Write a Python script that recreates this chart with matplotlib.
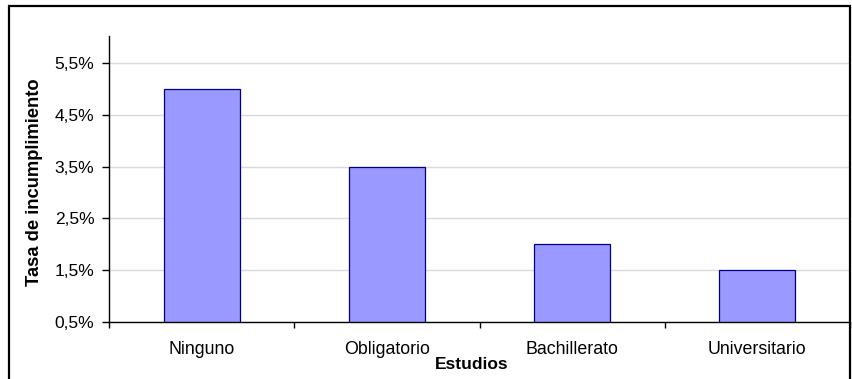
# Tasa de incumplimiento por nivel de estudios - bar chart, Excel style
import matplotlib
matplotlib.use("Agg")
import matplotlib.pyplot as plt
from matplotlib.patches import Rectangle
from matplotlib.ticker import FixedLocator, FuncFormatter

# data
categories = ["Ninguno", "Obligatorio", "Bachillerato", "Universitario"]
rates = [5.0, 3.5, 2.0, 1.5]  # percent
yticks = [0.5, 1.5, 2.5, 3.5, 4.5, 5.5]

plt.rcParams["font.family"] = ["Liberation Sans", "DejaVu Sans"]

fig = plt.figure(figsize=(8.53, 3.79), dpi=100)
ax = fig.add_axes([109 / 853, 1 - 322 / 379, 741 / 853, 286 / 379])

x = list(range(len(categories)))
ax.bar(x, rates, width=0.41, bottom=0, color="#9999FF", edgecolor="#000080",
       linewidth=0.9, zorder=3)

ax.set_xlim(-0.5, len(categories) - 0.5)
ax.set_ylim(0.5, 6.02)

# y axis: comma decimals like the Spanish Excel original
ax.yaxis.set_major_locator(FixedLocator(yticks))
ax.yaxis.set_major_formatter(FuncFormatter(lambda v, p: f"{v:.1f}".replace(".", ",") + "%"))
ax.grid(axis="y", color="#D9D9D9", linewidth=1.0, zorder=0)

# x axis: labels in the middle, tick marks at category boundaries
ax.set_xticks(x)
ax.set_xticklabels(categories)
ax.set_xticks([i - 0.5 for i in range(len(categories) + 1)], minor=True)
ax.tick_params(axis="x", which="major", length=0, pad=13.5, labelsize=12.8)
ax.tick_params(axis="x", which="minor", length=4, width=1, direction="out")
ax.tick_params(axis="y", length=5, width=1, direction="out", pad=5.5, labelsize=12.5)

for side in ["top", "right"]:
    ax.spines[side].set_visible(False)
for side in ["left", "bottom"]:
    ax.spines[side].set_linewidth(1.0)
    ax.spines[side].set_zorder(4)

ax.set_xlabel("Estudios", fontsize=12.5, fontweight="bold")
ax.xaxis.set_label_coords(0.49, -0.122)
ax.set_ylabel("Tasa de incumplimiento", fontsize=13.2, fontweight="bold")
ax.yaxis.set_label_coords(-0.0895, 0.49)

# black border around the chart area (bottom edge is cut off in the original)
fig.patches.append(Rectangle((8.5 / 853, -0.05), 842 / 853, 1 - 5.5 / 379 + 0.05,
                             transform=fig.transFigure, fill=False,
                             edgecolor="black", linewidth=1.6))

fig.savefig("out.png", dpi=100)
